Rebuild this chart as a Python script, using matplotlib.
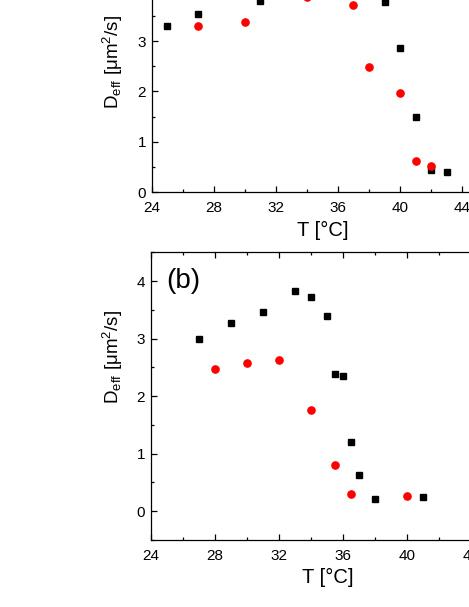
import matplotlib
matplotlib.use("Agg")
import matplotlib.pyplot as plt
from matplotlib.ticker import MultipleLocator

plt.rcParams['font.family'] = ['Liberation Sans', 'DejaVu Sans']
plt.rcParams['mathtext.fontset'] = 'custom'
plt.rcParams['mathtext.rm'] = 'Liberation Sans'
plt.rcParams['mathtext.it'] = 'Liberation Sans:italic'
plt.rcParams['mathtext.bf'] = 'Liberation Sans:bold'

# Panel (a) data
a_sq_T = [25, 27, 31, 39, 40, 41, 42, 43]
a_sq_D = [3.31, 3.53, 3.80, 3.77, 2.86, 1.49, 0.44, 0.40]
a_ci_T = [27, 30, 34, 37, 38, 40, 41, 42]
a_ci_D = [3.31, 3.37, 3.88, 3.72, 2.48, 1.97, 0.61, 0.52]

# Panel (b) data
b_sq_T = [27, 29, 31, 33, 34, 35, 35.5, 36, 36.5, 37, 38, 41]
b_sq_D = [3.00, 3.27, 3.46, 3.82, 3.72, 3.39, 2.39, 2.35, 1.21, 0.63, 0.21, 0.25]
b_ci_T = [28, 30, 32, 34, 35.5, 36.5, 40]
b_ci_D = [2.47, 2.58, 2.63, 1.76, 0.80, 0.30, 0.26]

xlabel = "T [°C]"
ylabel = r"D$_{\mathrm{eff}}$ [μm$^{2}$/s]"

W, H = 469, 607
fig = plt.figure(figsize=(W / 100, H / 100), dpi=100)

ax1 = fig.add_axes([151.7 / W, (H - 192) / H, 21 * 15.52 / W, 4.5 * 50.3 / H])
ax2 = fig.add_axes([150.7 / W, (H - 540) / H, 21 * 16.02 / W, 287.7 / H])

for ax in (ax1, ax2):
    ax.set_xlim(24, 45)
    ax.xaxis.set_major_locator(MultipleLocator(4))
    ax.xaxis.set_minor_locator(MultipleLocator(2))
    ax.yaxis.set_major_locator(MultipleLocator(1))
    ax.yaxis.set_minor_locator(MultipleLocator(0.5))
    ax.tick_params(which='both', direction='in', top=True, right=True, width=0.9)
    ax.tick_params(which='major', length=4, labelsize=11, pad=4)
    ax.tick_params(axis='x', which='major', pad=6.5)
    ax.tick_params(which='minor', length=2.3)
    for s in ax.spines.values():
        s.set_linewidth(0.9)

ax1.set_ylim(0, 4.5)
ax2.set_ylim(-0.5, 4.5)

ax1.plot(a_sq_T, a_sq_D, 's', color='black', markersize=4.8)
ax1.plot(a_ci_T, a_ci_D, 'o', color='#ff0000', markersize=5.2)
ax2.plot(b_sq_T, b_sq_D, 's', color='black', markersize=4.8)
ax2.plot(b_ci_T, b_ci_D, 'o', color='#ff0000', markersize=5.2)

ax2.text(166 / W, 1 - 281.5 / H, "(b)", transform=fig.transFigure, fontsize=20,
         ha='left', va='center')

fig.text(322.5 / W, 1 - 230 / H, xlabel, fontsize=14.5, ha='center', va='center')
fig.text(327.5 / W, 1 - 577 / H, xlabel, fontsize=14.5, ha='center', va='center')
fig.text(113 / W, 1 - 62 / H, ylabel, fontsize=13.5, ha='center', va='center', rotation=90)
fig.text(113 / W, 1 - 357 / H, ylabel, fontsize=13.5, ha='center', va='center', rotation=90)

fig.savefig("out.png", dpi=100)
